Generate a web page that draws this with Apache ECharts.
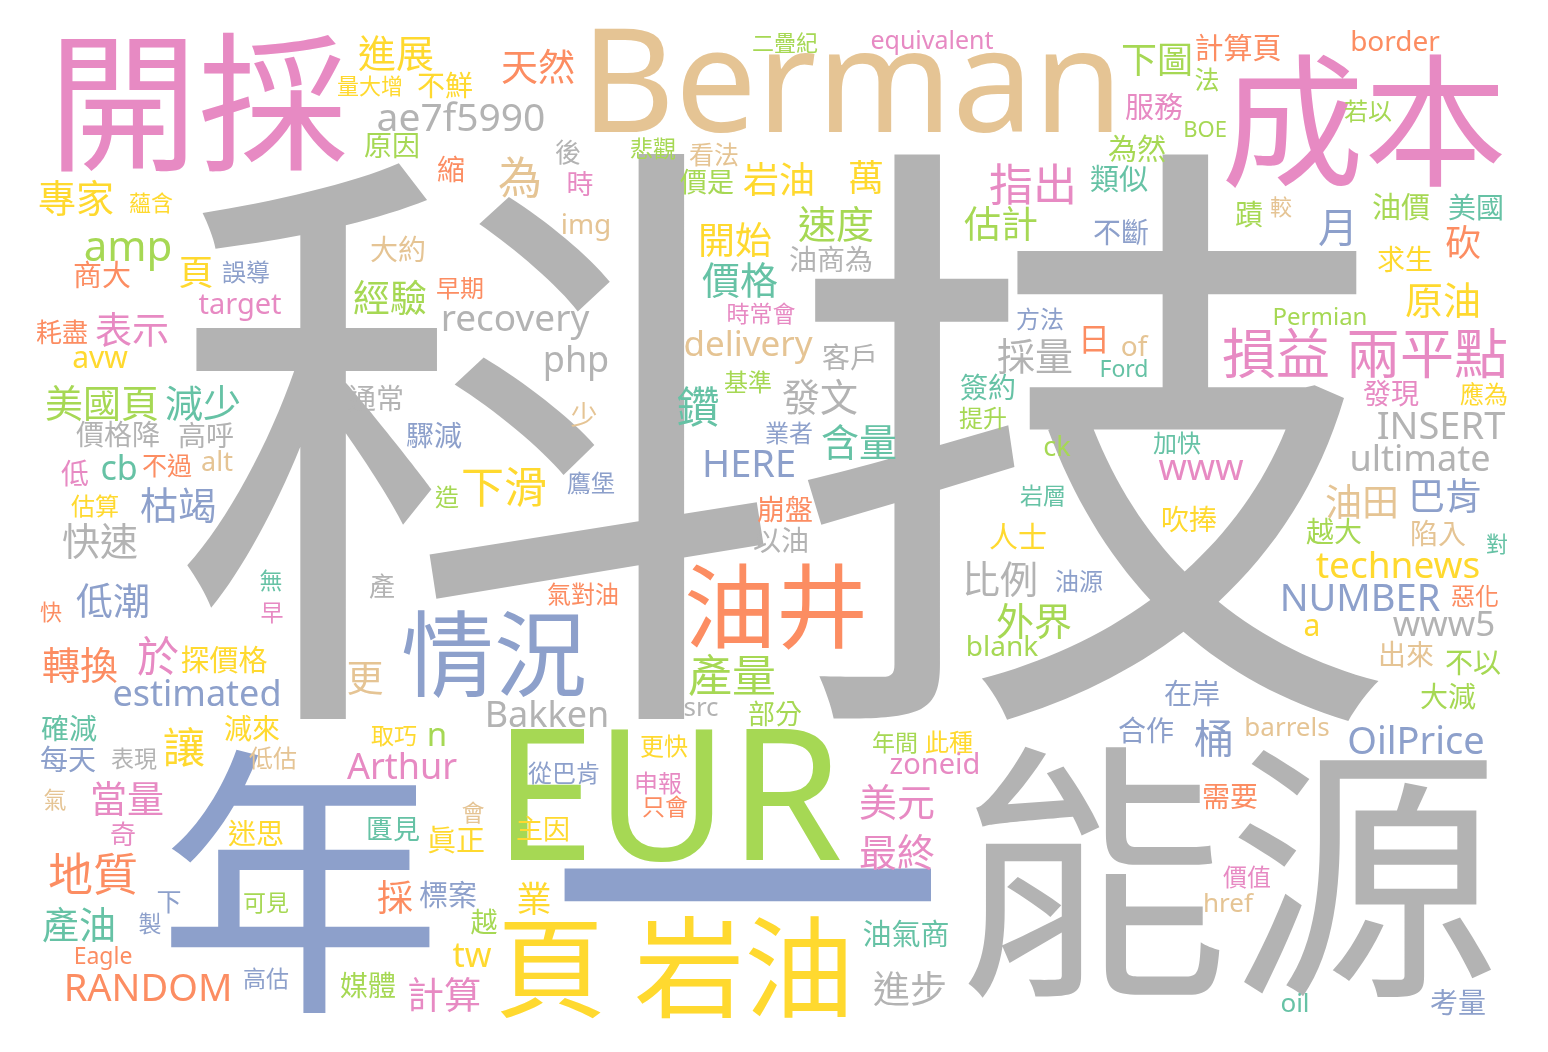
<!DOCTYPE html>
<html>
<head>
<meta charset="utf-8">
<script src="https://cdn.jsdelivr.net/npm/echarts@6/dist/echarts.min.js"></script>
<style>
  html, body { margin: 0; padding: 0; background: #fff; }
  #cloud { width: 1548px; height: 1052px; }
</style>
</head>
<body>
<div id="cloud"></div>
<script>
// word -> relative frequency (largest word = 100)
const freq = {
  '科技': 100, '一': 65.0, '年': 46.3, '能源': 44.2, 'EUR': 29.8, '開採': 24.4, 'Berman': 23.6, '成本': 23.3,
  '頁 岩油': 17.9, '情況': 15.1, '油井': 15.0, '損益': 8.8, '兩平點': 8.8,
  '進展': 6.2, '量大增': 3.6, '不鮮': 4.6, 'ae7f5990': 6.3, '原因': 4.6, '專家': 6.2, '蘊含': 3.6, 'amp': 6.8,
  '頁': 5.7, '商大': 4.7, '誤導': 3.9, 'target': 4.7, '經驗': 6.0, '大約': 4.6, '耗盡': 4.2, '表示': 6.0, 'avw': 4.9,
  '天然': 6.0, '二疊紀': 3.6, 'equivalent': 4.1, '後': 4.2, '悲觀': 3.7, '看法': 4.1, '縮': 4.6, '為': 7.2, '時': 4.4,
  '價是': 4.4, '岩油': 5.9, 'img': 4.6, '早期': 3.9, 'recovery': 6.0, '價格': 6.2, '時常會': 3.7, 'delivery': 5.7,
  'php': 5.9, '開始': 6.0,
  '下圖': 5.9, '服務': 4.7, '為然': 4.7, '萬': 5.9, '指出': 7.2, '類似': 4.7, '速度': 6.2, '估計': 6.0, '不斷': 4.6,
  '油商為': 4.6, '方法': 3.9, '採量': 6.2, '日': 5.2, 'of': 4.6, '客戶': 4.6, 'Ford': 3.7,
  '計算頁': 4.7, 'border': 4.6, '法': 4.1, '若以': 3.9, 'BOE': 3.6, '蹟': 4.6, '較': 3.6, '月': 6.5, '油價': 4.7,
  '美國': 4.6, '砍': 5.9, '求生': 4.6, '原油': 6.2, 'Permian': 3.9,
  '美國頁': 6.2, '減少': 6.2, '通常': 4.6, '價格降': 4.6, '高呼': 4.6, '低': 4.6, 'cb': 5.5, '不過': 4.1, 'alt': 4.4,
  '估算': 3.9, '枯竭': 6.2, '快速': 6.2, '無': 3.7, '早': 3.7, '產': 4.2, '快': 3.6, '低潮': 6.0, '轉換': 6.2,
  '於': 6.8, '探價格': 4.7, '更': 6.0, 'estimated': 5.9,
  '驟減': 4.6, '少': 4.4, '基準': 3.9, '鑽': 7.0, '業者': 3.9, 'HERE': 6.2, '下滑': 7.0, '造': 3.9, '鷹堡': 3.9,
  '崩盤': 4.6, '以油': 4.6, '氣對油': 3.9, '產量': 7.2,
  '發文': 6.2, '含量': 6.2, '簽約': 4.6, '提升': 3.9, 'ck': 4.4, '加快': 3.9, 'www': 5.9, '岩層': 3.7, '人士': 4.7,
  '比例': 6.2, '油源': 3.9, '外界': 6.2, 'blank': 4.6,
  '發現': 4.6, '應為': 3.9, 'INSERT': 6.2, 'ultimate': 5.9, '油田': 6.0, '巴肯': 6.0, '吹捧': 4.6, '越大': 4.6,
  '陷入': 4.6, '對': 3.6, 'technews': 6.0, 'NUMBER': 6.2, '惡化': 3.9, 'a': 4.9, 'www5': 5.7, '出來': 4.6,
  '不以': 4.6, '大減': 4.6, '在岸': 4.6,
  '確減': 4.6, '每天': 4.6, '表現': 3.7, '讓': 6.8, '減來': 4.6, '低估': 3.9, '氣': 3.7, '當量': 6.0, '奇': 4.2,
  '迷思': 4.6, '地質': 7.3, '下': 4.1, '製': 3.7, '可見': 3.7, '產油': 6.0, 'Eagle': 3.7, 'RANDOM': 6.2,
  '高估': 3.7, '媒體': 4.6, '匱見': 4.4, '採': 5.9,
  'Bakken': 5.9, 'src': 4.2, '部分': 4.4, '取巧': 3.7, 'n': 5.4, 'Arthur': 5.9, '更快': 3.9, '從巴肯': 3.9,
  '申報': 3.9, '只會': 3.7, '會': 3.7, '眞正': 4.7, '主因': 4.4, '標案': 4.7, '業': 5.7, '越': 4.4, 'tw': 5.5,
  '計算': 6.0,
  '年間': 3.7, '此種': 3.9, 'zoneid': 4.7, '美元': 6.2, '最終': 6.2, '油氣商': 4.7, '進步': 6.0, '合作': 4.6,
  '桶': 6.5, 'barrels': 4.2, 'OilPrice': 6.2, '需要': 4.6, '價值': 3.9, 'href': 4.2, 'oil': 4.2, '考量': 4.6
}

// layout of the cloud: word -> [x, y, palette index]
const palette = ['#66c2a5', '#fc8d62', '#8da0cb', '#e78ac3', '#a6d854', '#ffd92f', '#e5c494', '#b3b3b3']
const MAX_FONT = 615
const place = {
  '科技': [785, 450, 7], '能源': [1228, 878, 7], '年': [300, 888, 2], '一': [747, 897, 2], 'EUR': [668, 794, 4],
  'Berman': [852, 80, 6], '開採': [198, 105, 3], '成本': [1364, 123, 3], '頁 岩油': [675, 970, 5],
  '油井': [776, 608, 1], '情況': [494, 655, 2], '損益': [1276, 355, 3], '兩平點': [1427, 355, 3],
  '進展': [396, 53, 5], '量大增': [370, 86, 5], '不鮮': [445, 86, 5], 'ae7f5990': [461, 117, 7],
  '原因': [392, 146, 4], '專家': [76, 198, 5], '蘊含': [151, 203, 5], 'amp': [128, 246, 4], '頁': [196, 272, 5],
  '商大': [102, 276, 1], '誤導': [246, 272, 2], 'target': [240, 304, 3], '經驗': [390, 298, 4],
  '大約': [398, 250, 6], '耗盡': [62, 333, 1], '表示': [132, 330, 3], 'avw': [100, 357, 5],
  '天然': [538, 67, 1], '二疊紀': [785, 43, 4], 'equivalent': [932, 40, 3], '後': [568, 153, 7],
  '悲觀': [653, 148, 4], '看法': [714, 155, 6], '縮': [451, 170, 1], '為': [520, 178, 6], '時': [580, 184, 3],
  '價是': [707, 182, 4], '岩油': [779, 180, 5], 'img': [586, 224, 6], '早期': [460, 288, 1],
  'recovery': [515, 317, 7], '價格': [740, 280, 0], '時常會': [761, 313, 3], 'delivery': [748, 343, 6],
  'php': [576, 359, 7], '開始': [735, 240, 5],
  '下圖': [1157, 60, 4], '服務': [1154, 108, 3], '為然': [1137, 150, 4], '萬': [866, 178, 5], '指出': [1033, 185, 3],
  '類似': [1119, 180, 0], '速度': [836, 224, 4], '估計': [1001, 224, 4], '不斷': [1121, 233, 2],
  '油商為': [831, 260, 7], '方法': [1040, 319, 2], '採量': [1035, 356, 7], '日': [1094, 340, 1],
  'of': [1134, 346, 6], '客戶': [850, 358, 7], 'Ford': [1124, 368, 0],
  '計算頁': [1238, 49, 1], 'border': [1395, 41, 1], '法': [1207, 80, 4], '若以': [1368, 111, 4],
  'BOE': [1205, 129, 4], '蹟': [1249, 215, 4], '較': [1281, 207, 6], '月': [1338, 228, 2], '油價': [1401, 208, 4],
  '美國': [1476, 208, 0], '砍': [1463, 243, 1], '求生': [1405, 260, 5], '原油': [1443, 300, 5],
  'Permian': [1320, 316, 4],
  '美國頁': [102, 403, 4], '減少': [203, 403, 0], '通常': [376, 399, 7], '價格降': [118, 435, 7],
  '高呼': [206, 436, 7], '低': [75, 474, 3], 'cb': [119, 467, 0], '不過': [167, 466, 1], 'alt': [217, 461, 6],
  '估算': [95, 506, 5], '枯竭': [178, 505, 2], '快速': [100, 541, 7], '無': [271, 580, 0], '早': [272, 612, 3],
  '產': [382, 587, 7], '快': [51, 612, 1], '低潮': [113, 601, 2], '轉換': [80, 665, 1], '於': [158, 657, 3],
  '探價格': [224, 661, 5], '更': [365, 678, 6], 'estimated': [197, 693, 2],
  '驟減': [434, 436, 2], '少': [584, 415, 6], '基準': [748, 382, 4], '鑽': [698, 408, 0], '業者': [789, 433, 2],
  'HERE': [749, 463, 2], '下滑': [504, 488, 5], '造': [447, 497, 4], '鷹堡': [591, 483, 2], '崩盤': [785, 510, 1],
  '以油': [781, 541, 7], '氣對油': [583, 594, 1], '產量': [732, 676, 4],
  '發文': [820, 397, 7], '含量': [859, 442, 0], '簽約': [988, 388, 0], '提升': [983, 418, 4], 'ck': [1057, 446, 4],
  '加快': [1177, 443, 0], 'www': [1201, 467, 3], '岩層': [1043, 495, 0], '人士': [1018, 538, 5],
  '比例': [1000, 579, 7], '油源': [1079, 581, 2], '外界': [1034, 621, 4], 'blank': [1002, 646, 4],
  '發現': [1391, 394, 3], '應為': [1484, 394, 5], 'INSERT': [1441, 425, 7], 'ultimate': [1420, 458, 7],
  '油田': [1362, 502, 6], '巴肯': [1445, 496, 2], '吹捧': [1189, 520, 5], '越大': [1334, 532, 4],
  '陷入': [1438, 534, 6], '對': [1497, 544, 0], 'technews': [1398, 564, 5], 'NUMBER': [1360, 597, 2],
  '惡化': [1475, 596, 1], 'a': [1312, 625, 5], 'www5': [1444, 623, 7], '出來': [1406, 655, 6],
  '不以': [1473, 663, 4], '大減': [1448, 697, 4], '在岸': [1192, 694, 2],
  '確減': [69, 729, 0], '每天': [68, 760, 2], '表現': [134, 758, 7], '讓': [184, 748, 5], '減來': [252, 729, 5],
  '低估': [273, 758, 6], '氣': [55, 799, 6], '當量': [127, 799, 3], '奇': [123, 835, 3], '迷思': [256, 834, 5],
  '地質': [93, 875, 1], '下': [169, 902, 2], '製': [150, 923, 2], '可見': [266, 902, 4], '產油': [79, 925, 0],
  'Eagle': [103, 955, 1], 'RANDOM': [148, 987, 1], '高估': [266, 978, 2], '媒體': [368, 986, 4],
  '匱見': [393, 829, 0], '採': [395, 898, 1],
  'Bakken': [547, 714, 7], 'src': [701, 707, 7], '部分': [775, 714, 4], '取巧': [394, 735, 5], 'n': [437, 735, 4],
  'Arthur': [402, 766, 3], '更快': [664, 746, 5], '從巴肯': [564, 773, 2], '申報': [658, 783, 3],
  '只會': [665, 806, 1], '會': [473, 812, 6], '眞正': [456, 841, 5], '主因': [543, 829, 5], '標案': [448, 896, 2],
  '業': [534, 899, 5], '越': [484, 922, 4], 'tw': [472, 954, 5], '計算': [444, 995, 3],
  '年間': [895, 742, 4], '此種': [949, 742, 5], 'zoneid': [935, 764, 3], '美元': [897, 802, 3],
  '最終': [897, 852, 3], '油氣商': [906, 935, 0], '進步': [910, 989, 7], '合作': [1146, 731, 2],
  '桶': [1214, 739, 2], 'barrels': [1287, 727, 6], 'OilPrice': [1416, 740, 2], '需要': [1230, 797, 1],
  '價值': [1247, 877, 3], 'href': [1228, 903, 6], 'oil': [1295, 1003, 0], '考量': [1458, 1003, 2]
}

const words = Object.keys(freq)

const chart = echarts.init(document.getElementById('cloud'), null, { renderer: 'canvas' })
chart.setOption({
  backgroundColor: '#ffffff',
  animation: false,
  grid: { left: 0, right: 0, top: 0, bottom: 0 },
  xAxis: { type: 'value', min: 0, max: 1548, show: false },
  yAxis: { type: 'value', min: 0, max: 1052, inverse: true, show: false },
  series: [{
    type: 'scatter',
    silent: true,
    symbolSize: 0,
    itemStyle: { opacity: 1 },
    emphasis: { disabled: true },
    label: {
      show: true,
      position: 'inside',
      opacity: 1,
      formatter: p => p.name,
      fontFamily: "'Noto Sans', 'Noto Sans CJK TC', sans-serif",
      fontWeight: 'normal'
    },
    data: words.map(w => {
      const fs = Math.round(freq[w] / 100 * MAX_FONT)
      return {
        name: w,
        value: [place[w][0], place[w][1]],
        label: {
          fontSize: fs,
          color: palette[place[w][2]],
          // canvas "middle" sits a little high for these fonts
          offset: [0, Math.round(fs * 0.075)]
        }
      }
    })
  }]
})
</script>
</body>
</html>
